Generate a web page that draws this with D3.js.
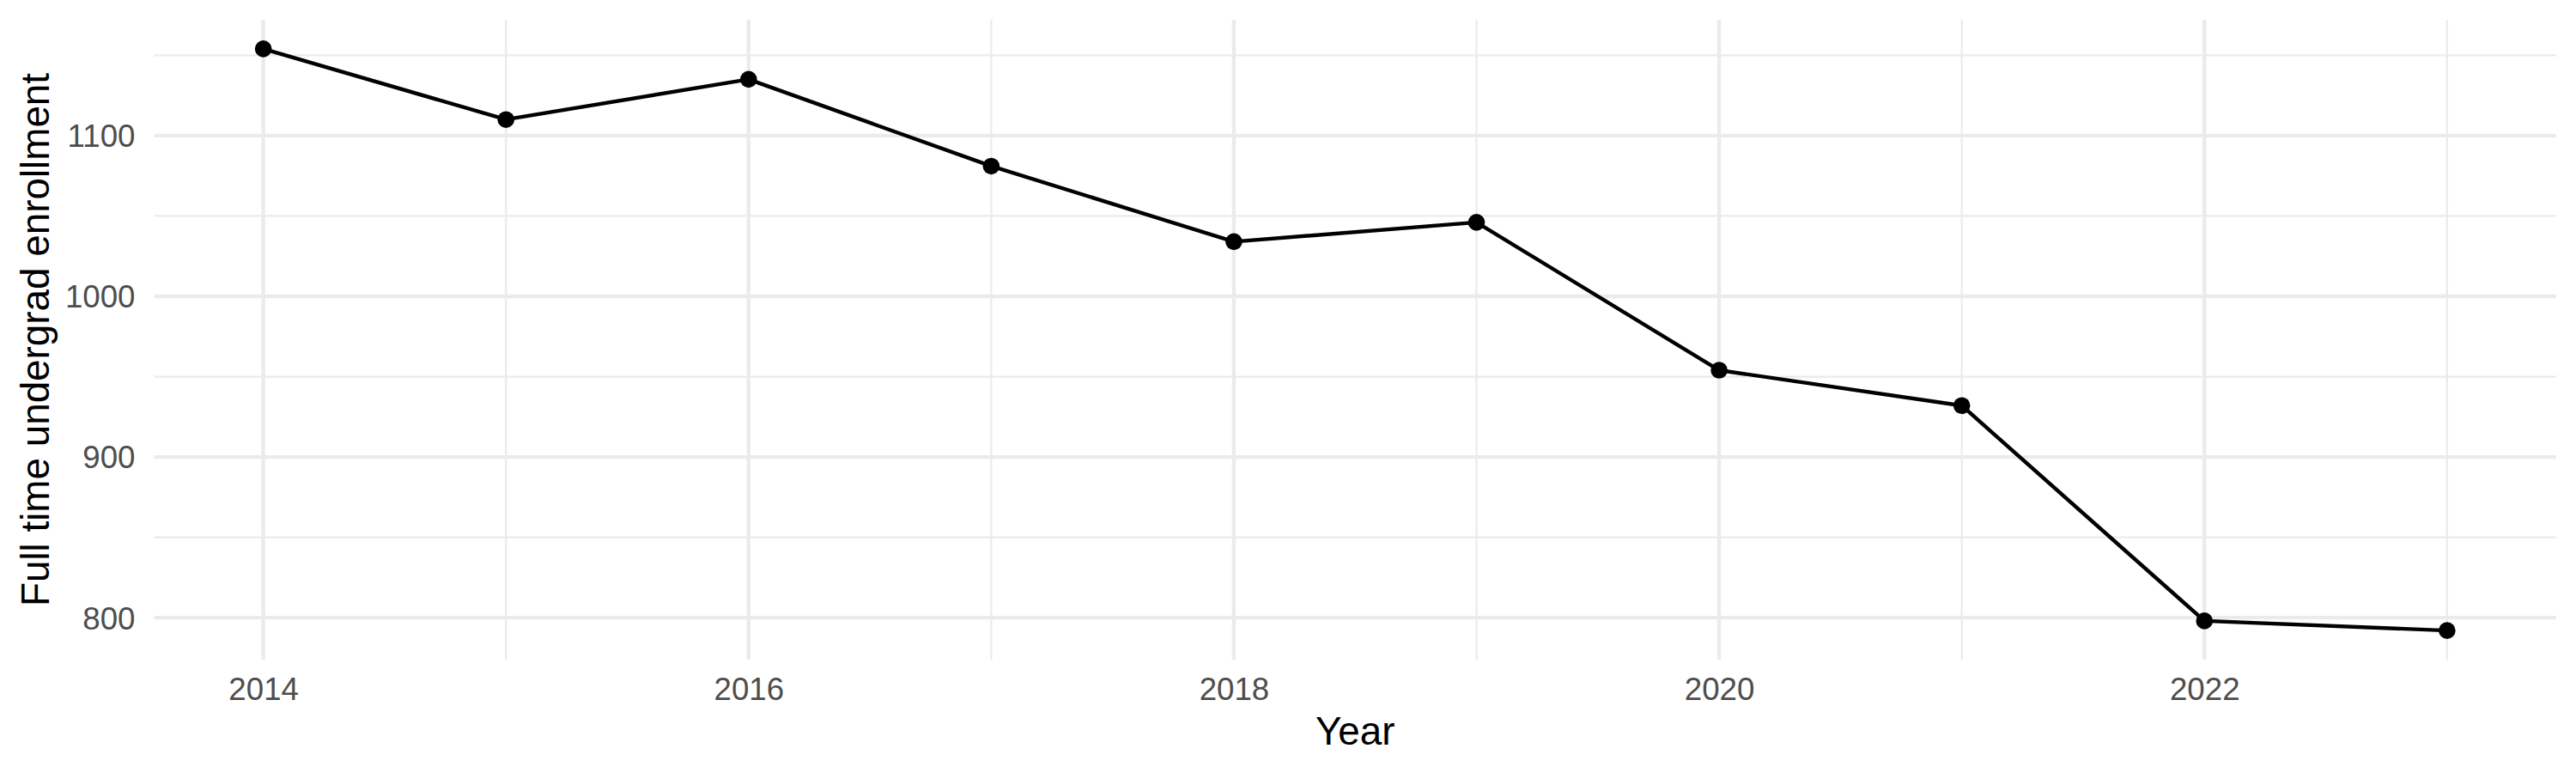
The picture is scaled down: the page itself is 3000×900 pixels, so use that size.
<!DOCTYPE html>
<html>
<head>
<meta charset="utf-8">
<script src="https://cdn.jsdelivr.net/npm/d3@7"></script>
<style>
  body { margin: 0; background: #fff; }
  svg { display: block; font-family: "Liberation Sans", Arial, sans-serif; }
</style>
</head>
<body>
<svg id="chart" width="3000" height="900"></svg>
<script>
// enrollment per year
const years = [2014, 2015, 2016, 2017, 2018, 2019, 2020, 2021, 2022, 2023];
const enrollment = [1154, 1110, 1135, 1081, 1034, 1046, 954, 932, 798, 792];
const xMajor = [2014, 2016, 2018, 2020, 2022];
const xMinor = [2015, 2017, 2019, 2021, 2023];
const yMajor = [800, 900, 1000, 1100];
const yMinor = [850, 950, 1050, 1150];

const data = years.map((y, i) => ({ year: y, value: enrollment[i] }));

const width = 3000;
const height = 900;
const margin = { top: 23, right: 23, bottom: 132, left: 179.5 };

const svg = d3.select('#chart');

// ggplot style 5% expansion on both axes
const xExt = d3.extent(years);
const xPad = (xExt[1] - xExt[0]) * 0.05;
const yExt = d3.extent(enrollment);
const yPad = (yExt[1] - yExt[0]) * 0.05;

const x = d3.scaleLinear()
    .domain([xExt[0] - xPad, xExt[1] + xPad])
    .range([margin.left, width - margin.right]);
const y = d3.scaleLinear()
    .domain([yExt[0] - yPad, yExt[1] + yPad])
    .range([height - margin.bottom, margin.top]);

const grid = svg.append('g').attr('class', 'grid');
const gridColor = '#ebebeb';

// minor grid first
grid.selectAll('line.ymin').data(yMinor).join('line')
    .attr('class', 'ymin')
    .attr('x1', x.range()[0]).attr('x2', x.range()[1])
    .attr('y1', d => y(d)).attr('y2', d => y(d))
    .attr('stroke', gridColor).attr('stroke-width', 2.2);
grid.selectAll('line.xmin').data(xMinor).join('line')
    .attr('class', 'xmin')
    .attr('y1', y.range()[0]).attr('y2', y.range()[1])
    .attr('x1', d => x(d)).attr('x2', d => x(d))
    .attr('stroke', gridColor).attr('stroke-width', 2.2);
grid.selectAll('line.ymaj').data(yMajor).join('line')
    .attr('class', 'ymaj')
    .attr('x1', x.range()[0]).attr('x2', x.range()[1])
    .attr('y1', d => y(d)).attr('y2', d => y(d))
    .attr('stroke', gridColor).attr('stroke-width', 4.4);
grid.selectAll('line.xmaj').data(xMajor).join('line')
    .attr('class', 'xmaj')
    .attr('y1', y.range()[0]).attr('y2', y.range()[1])
    .attr('x1', d => x(d)).attr('x2', d => x(d))
    .attr('stroke', gridColor).attr('stroke-width', 4.4);

// axes (no lines, only labels like theme_minimal)
const xAxis = svg.append('g')
    .attr('transform', `translate(0, ${height - margin.bottom})`)
    .call(d3.axisBottom(x).tickValues(xMajor).tickFormat(d3.format('d')).tickSize(0).tickPadding(0));
xAxis.select('.domain').remove();
xAxis.selectAll('text')
    .attr('y', 47)
    .attr('dy', 0)
    .attr('font-size', 36.7)
    .attr('font-family', '"Liberation Sans", Arial, sans-serif')
    .attr('fill', '#4d4d4d');

const yAxis = svg.append('g')
    .attr('transform', `translate(${margin.left}, 0)`)
    .call(d3.axisLeft(y).tickValues(yMajor).tickFormat(d3.format('d')).tickSize(0).tickPadding(0));
yAxis.select('.domain').remove();
yAxis.selectAll('text')
    .attr('x', -22)
    .attr('dy', '0.35em')
    .attr('font-size', 36.7)
    .attr('font-family', '"Liberation Sans", Arial, sans-serif')
    .attr('fill', '#4d4d4d');

// line + points
const line = d3.line()
    .x(d => x(d.year))
    .y(d => y(d.value));

svg.append('path')
    .datum(data)
    .attr('d', line)
    .attr('fill', 'none')
    .attr('stroke', '#000')
    .attr('stroke-width', 4.4)
    .attr('stroke-linejoin', 'round');

svg.selectAll('circle.pt').data(data).join('circle')
    .attr('class', 'pt')
    .attr('cx', d => x(d.year))
    .attr('cy', d => y(d.value))
    .attr('r', 9.8)
    .attr('fill', '#000');

// titles
const panelMidX = (x.range()[0] + x.range()[1]) / 2;
const panelMidY = (y.range()[0] + y.range()[1]) / 2;

svg.append('text')
    .attr('x', panelMidX)
    .attr('y', 867)
    .attr('text-anchor', 'middle')
    .attr('font-size', 45.8)
    .attr('fill', '#000')
    .text('Year');

svg.append('text')
    .attr('transform', `translate(57, ${panelMidY}) rotate(-90)`)
    .attr('text-anchor', 'middle')
    .attr('font-size', 45.8)
    .attr('fill', '#000')
    .text('Full time undergrad enrollment');
</script>
</body>
</html>
